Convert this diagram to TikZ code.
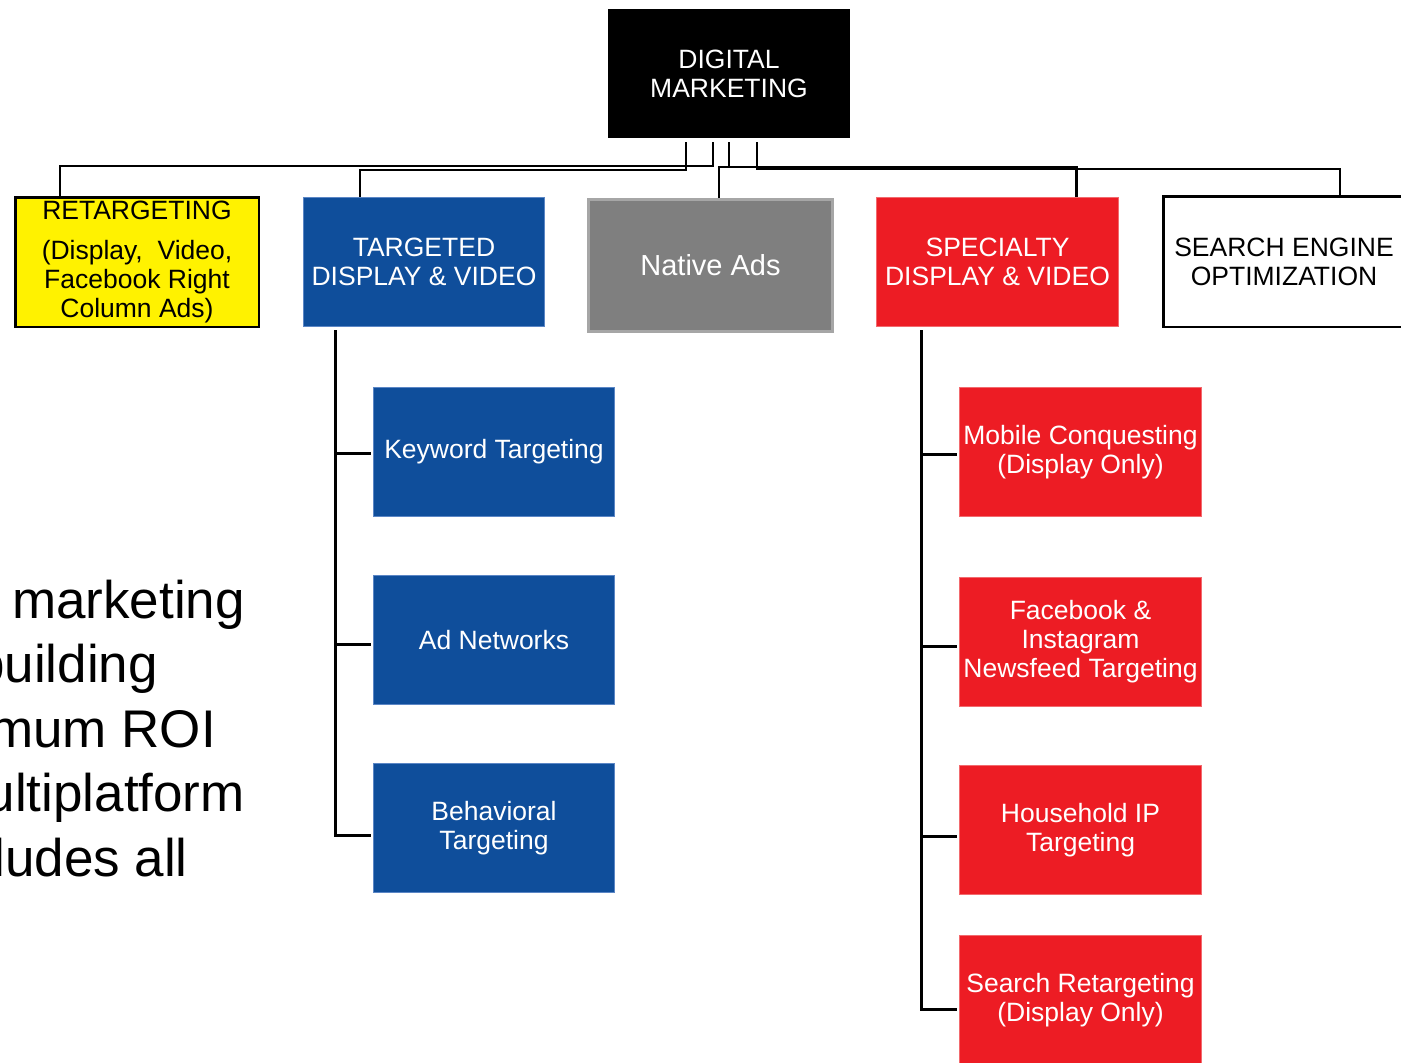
\documentclass[tikz,border=0pt]{standalone}
\usepackage{fontspec}
\setmainfont{Liberation Sans}
\usetikzlibrary{calc}
\definecolor{dmblue}{HTML}{0F4E9B}
\definecolor{dmblueedge}{HTML}{5B86C5}
\definecolor{dmred}{HTML}{ED1C24}
\definecolor{dmrededge}{HTML}{F26A6E}
\definecolor{dmgray}{HTML}{7F7F7F}
\definecolor{dmgrayedge}{HTML}{A6A6A6}
\tikzset{
  boxfont/.style={font=\fontsize{26.5}{29}\selectfont, align=center, inner sep=0pt},
  topbox/.style={boxfont, fill=black, text=white, minimum width=242pt, minimum height=129pt},
  bluebox/.style={boxfont, fill=dmblue, draw=dmblueedge, line width=1pt, text=white, minimum width=241pt, minimum height=129pt},
  redbox/.style={boxfont, fill=dmred, draw=dmrededge, line width=1pt, text=white, minimum width=242pt, minimum height=129pt},
  yellowbox/.style={boxfont, fill=yellow, draw=black, line width=2.5pt, text=black, minimum width=243.5pt, minimum height=129.5pt},
  whitebox/.style={boxfont, fill=white, draw=black, line width=2.5pt, text=black, minimum width=241.5pt, minimum height=130.5pt},
  graybox/.style={boxfont, fill=dmgray, draw=dmgrayedge, line width=3pt, text=white, minimum width=244pt, minimum height=132pt, font=\fontsize{29}{32}\selectfont},
  topline/.style={draw=black, line width=2.5pt},
  childline/.style={draw=black, line width=3pt},
  bigtext/.style={font=\fontsize{53}{64}\selectfont, inner sep=0pt, anchor=base east, text=black}
}
\begin{document}
\begin{tikzpicture}[x=1pt, y=-1pt]
\useasboundingbox (0,0) rectangle (1401,1063);
\fill[white] (0,0) rectangle (1401,1063);
\clip (0,0) rectangle (1401,1063);

% top level
\node[topbox] (dm) at (729,73.5) {DIGITAL\\MARKETING};

% second level
\node[yellowbox] (ret) at (137,262) {RETARGETING\\[11pt](Display, \ Video,\\Facebook Right\\Column Ads)};
\node[bluebox] (tdv) at (424,262) {TARGETED\\DISPLAY \& VIDEO};
\node[graybox] (nat) at (710.5,265.5) {Native Ads};
\node[redbox] (spec) at (997.5,262) {SPECIALTY\\DISPLAY \& VIDEO};
\node[whitebox] (seo) at (1284,261.5) {SEARCH ENGINE\\OPTIMIZATION};

% blue children
\node[bluebox] (kw) at (494,451.5) {Keyword Targeting};
\node[bluebox] (an) at (494,640) {Ad Networks};
\node[bluebox] (bt) at (494,828) {Behavioral\\Targeting};

% red children
\node[redbox] (mc) at (1080.5,452) {Mobile Conquesting\\(Display Only)};
\node[redbox] (fb) at (1080.5,641.5) {Facebook \&\\Instagram\\Newsfeed Targeting};
\node[redbox] (hh) at (1080.5,830) {Household IP\\Targeting};
\node[redbox] (sr) at (1080.5,1000) {Search Retargeting\\(Display Only)};

% top connectors
\draw[topline] ([xshift=-43pt,yshift=-4pt]dm.south) -- ++(0,28) -| ([xshift=-64pt]tdv.north);
\draw[topline] ([xshift=-16pt,yshift=-4pt]dm.south) -- ++(0,24) -| ([xshift=-77pt]ret.north);
\draw[topline] ([yshift=-4pt]dm.south) -- ++(0,25) -| ([xshift=8.5pt]nat.north);
\draw[topline] ([yshift=-4pt]dm.south) -- ++(0,25) -| ([xshift=79pt]spec.north);
\draw[topline] ([xshift=28pt,yshift=-4pt]dm.south) -- ++(0,27) -| ([xshift=56pt]seo.north);

% child connectors
\coordinate (tb) at ([xshift=-89pt,yshift=-3pt]tdv.south);
\draw[childline] (tb) |- ([xshift=-2pt,yshift=-1.5pt]kw.west);
\draw[childline] (tb) |- ([xshift=-2pt,yshift=-4pt]an.west);
\draw[childline] (tb) |- ([xshift=-2pt,yshift=-7pt]bt.west);

\coordinate (sb) at ([xshift=-76.5pt,yshift=-3pt]spec.south);
\draw[childline] (sb) |- ([xshift=-2pt,yshift=-2pt]mc.west);
\draw[childline] (sb) |- ([xshift=-2pt,yshift=-4.5pt]fb.west);
\draw[childline] (sb) |- ([xshift=-2pt,yshift=-6pt]hh.west);
\draw[childline] (sb) |- ([xshift=-2pt,yshift=-9pt]sr.west);

% clipped left text
\node[bigtext] (l1) at (245,618) {marketing};
\node[bigtext] (l2) at (158,682) {building};
\node[bigtext] (l3) at (216,747) {maximum ROI};
\node[bigtext] (l4) at (245,811) {multiplatform};
\node[bigtext] (l5) at (188,876) {includes all};
\end{tikzpicture}
\end{document}
